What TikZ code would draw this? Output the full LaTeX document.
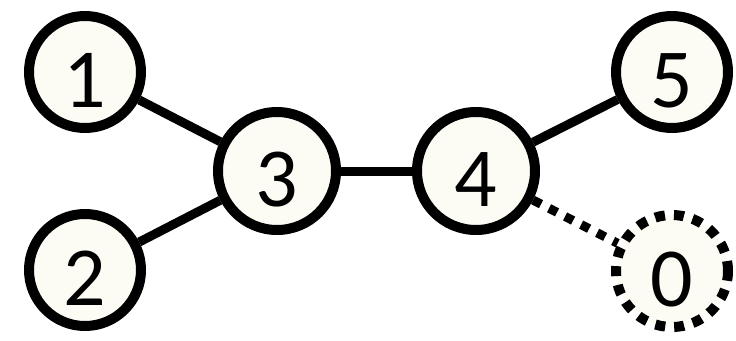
\documentclass[tikz,border=0pt]{standalone}
\usepackage{fontspec}
\setmainfont{Carlito}
\definecolor{ivory}{RGB}{252,252,244}
\begin{document}
\begin{tikzpicture}[x=1pt,y=-1pt,
  vert/.style={circle,draw=black,line width=10pt,fill=ivory,minimum size=112pt,inner sep=0pt,text height=71pt,text depth=0pt,font=\fontsize{84}{84}\selectfont},
  big/.style={vert,minimum size=118pt},
  ghost/.style={vert,dash pattern=on 10pt off 9pt},
  edge/.style={line width=9pt},
  dotedge/.style={line width=9pt,dash pattern=on 9pt off 9pt}]
\useasboundingbox (0,0) rectangle (736,340);
\node[vert] (n1) at (85,72) {1};
\node[vert] (n2) at (85,270) {2};
\node[big] (n3) at (277,171) {3};
\node[big] (n4) at (476,171) {4};
\node[vert] (n5) at (672,72) {5};
\node[ghost] (n0) at (672,271) {0};
\draw[edge] (n1) -- (n3);
\draw[edge] (n2) -- (n3);
\draw[edge] (n3) -- (n4);
\draw[edge] (n4) -- (n5);
\draw[dotedge] (n4) -- (n0);
\end{tikzpicture}
\end{document}
